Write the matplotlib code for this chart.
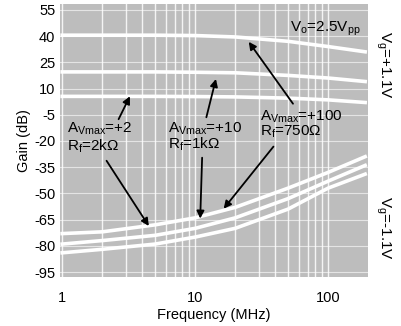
import numpy as np
import matplotlib
matplotlib.use('Agg')
import matplotlib.pyplot as plt

plt.rcParams['font.family'] = ['Liberation Sans Narrow', 'Liberation Sans', 'DejaVu Sans']
plt.rcParams['mathtext.fontset'] = 'custom'
plt.rcParams['mathtext.rm'] = 'Liberation Sans'

# frequency points (MHz)
freq = [1, 2, 5, 10, 20, 50, 100, 190]
# Vg = +1.1V curves (dB)
g_hi_100 = [40.5, 40.5, 40.5, 40.3, 39.5, 37.0, 34.0, 31.0]
g_hi_10 = [19.5, 19.5, 19.5, 19.3, 19.0, 17.5, 16.0, 14.0]
g_hi_2 = [5.5, 5.5, 5.5, 5.4, 5.2, 4.5, 3.5, 2.0]
# Vg = -1.1V curves (dB)
g_lo_a = [-73, -72, -68, -64, -58, -47, -38, -29]
g_lo_b = [-79, -77, -74, -70, -64, -53, -43, -34]
g_lo_c = [-84, -82, -79, -75, -70, -59, -47, -39]

yticks = [55, 40, 25, 10, -5, -20, -35, -50, -65, -80, -95]
xticks = [1, 10, 100]

fig = plt.figure(figsize=(4.01, 3.26), dpi=100)
ax = fig.add_axes([0.150, 0.150, 0.768, 0.838])
ax.set_facecolor('#bdbdbd')
ax.set_xscale('log')
ax.set_xlim(0.965, 200)
ax.set_ylim(-97.9, 58.4)

# white grid
minor = [m * d for d in (1, 10, 100) for m in range(2, 10) if m * d < 200]
for v in minor + xticks:
    ax.axvline(v, color='white', lw=1.0, alpha=0.85, zorder=1)
for v in yticks:
    ax.axhline(v, color='white', lw=0.8, alpha=0.6, zorder=1)

for g in (g_hi_100, g_hi_10, g_hi_2, g_lo_a, g_lo_b, g_lo_c):
    ax.plot(freq, g, color='white', lw=2.6, zorder=2)

for s in ax.spines.values():
    s.set_visible(False)
ax.tick_params(length=0, labelsize=10.5)
ax.tick_params(axis='x', pad=10)
ax.set_xticks(xticks)
ax.set_xticklabels(['1', '10', '100'])
ax.xaxis.set_minor_locator(matplotlib.ticker.NullLocator())
ax.set_yticks(yticks)
ax.set_yticklabels([str(v) for v in yticks])
ax.set_xlabel('Frequency (MHz)', fontsize=10.5, labelpad=2)
ax.set_ylabel('Gain (dB)', fontsize=10.5, labelpad=2)

fs = 11
ax.text(1.08, -13, r'$\mathregular{A_{Vmax}}$=+2', fontsize=fs, va='center', zorder=5)
ax.text(1.08, -23, r'$\mathregular{R_f}$=2k$\Omega$', fontsize=fs, va='center', zorder=5)
ax.text(6.2, -13, r'$\mathregular{A_{Vmax}}$=+10', fontsize=fs, va='center', zorder=5)
ax.text(6.2, -22, r'$\mathregular{R_f}$=1k$\Omega$', fontsize=fs, va='center', zorder=5)
ax.text(31, -6, r'$\mathregular{A_{Vmax}}$=+100', fontsize=fs, va='center', zorder=5)
ax.text(31, -15, r'$\mathregular{R_f}$=750$\Omega$', fontsize=fs, va='center', zorder=5)
ax.text(175, 44, r'$\mathregular{V_o}$=2.5$\mathregular{V_{pp}}$', fontsize=fs, va='center', ha='right', zorder=5)

fig.text(0.955, 0.80, r'$\mathregular{V_g}$=+1.1V', fontsize=fs, rotation=270, ha='center', va='center')
fig.text(0.955, 0.30, r'$\mathregular{V_g}$=-1.1V', fontsize=fs, rotation=270, ha='center', va='center')

arr = dict(arrowstyle='-|>', color='black', lw=1.3, mutation_scale=11)
ax.annotate('', xy=(3.3, 7), xytext=(2.6, -9), arrowprops=arr, zorder=6)
ax.annotate('', xy=(4.6, -70), xytext=(2.1, -30), arrowprops=arr, zorder=6)
ax.annotate('', xy=(14.5, 17), xytext=(12, -8), arrowprops=arr, zorder=6)
ax.annotate('', xy=(10.9, -66), xytext=(11.3, -28), arrowprops=arr, zorder=6)
ax.annotate('', xy=(24.6, 38), xytext=(56, 0), arrowprops=arr, zorder=6)
ax.annotate('', xy=(15.9, -60), xytext=(40, -22), arrowprops=arr, zorder=6)

fig.savefig('out.png', dpi=100)
